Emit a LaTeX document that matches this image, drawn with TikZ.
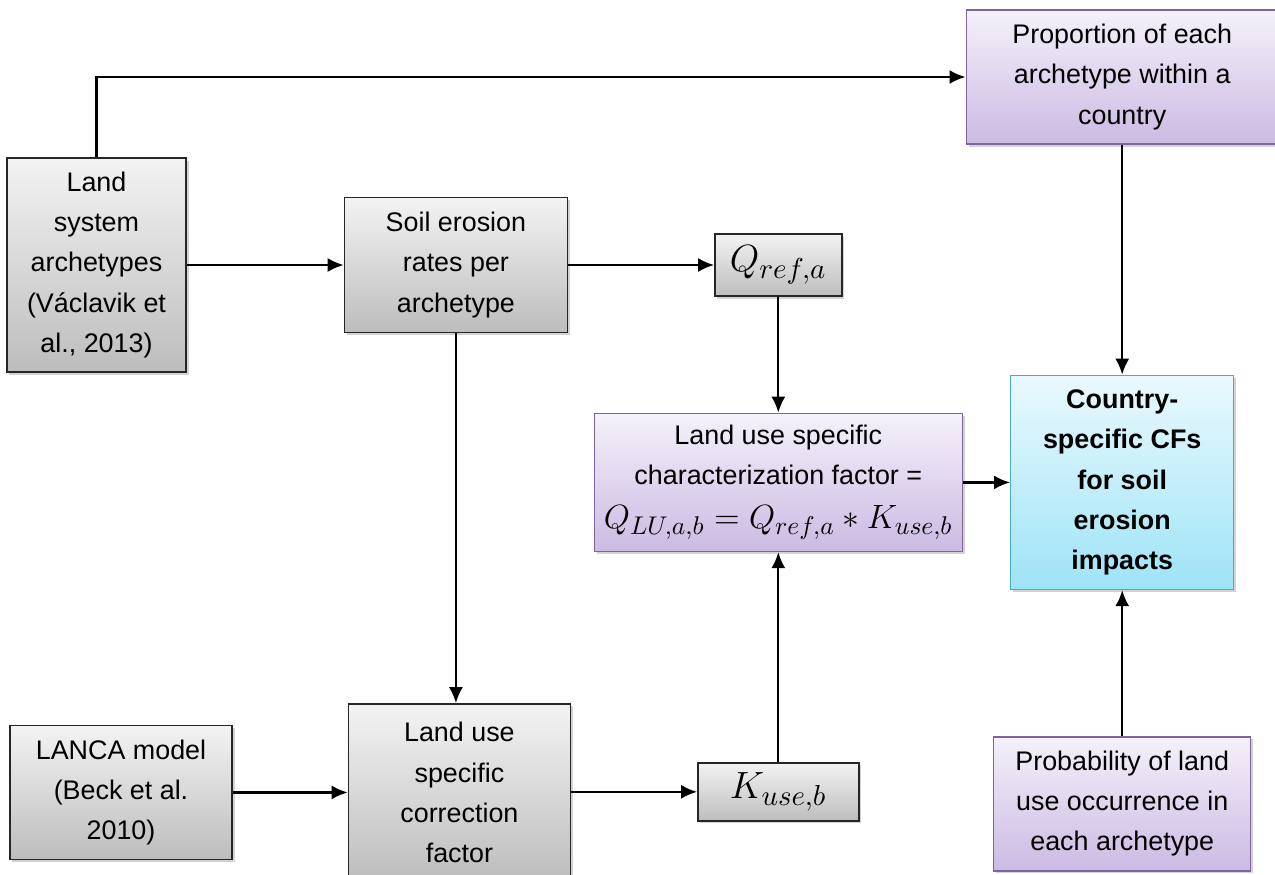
\documentclass[tikz,border=0pt]{standalone}
\usepackage{fontspec}
\setmainfont{Liberation Sans}
\usepackage{graphicx}
\usetikzlibrary{arrows.meta}
\usetikzlibrary{positioning}
\usetikzlibrary{shadows}
\usepackage{xcolor}
\definecolor{greytop}{HTML}{F3F3F3}
\definecolor{greybot}{HTML}{BDBDBD}
\definecolor{lilactop}{HTML}{F5F1FA}
\definecolor{lilacbot}{HTML}{CBBAE3}
\definecolor{lilacline}{HTML}{8064A2}
\definecolor{skytop}{HTML}{EAF9FD}
\definecolor{skybot}{HTML}{9EE3F6}
\definecolor{skyline}{HTML}{4BACC6}
\newcommand{\boxfont}{\fontsize{15.3}{22.8}\selectfont}
\newcommand{\eq}[2][1.33]{\scalebox{#1}{$#2$}}

\begin{document}
\begin{tikzpicture}[
  node distance=2cm and 3cm,
  input/.style={rectangle, draw=black!85, line width=0.8pt,
    top color=greytop, bottom color=greybot, align=center, font=\boxfont,
    drop shadow={shadow xshift=0.5mm, shadow yshift=-0.5mm, opacity=0.35}},
  factor/.style={rectangle, draw=lilacline, line width=0.8pt,
    top color=lilactop, bottom color=lilacbot, align=center, font=\boxfont,
    drop shadow={shadow xshift=0.5mm, shadow yshift=-0.5mm, opacity=0.35}},
  result/.style={rectangle, draw=skyline, line width=0.8pt,
    top color=skytop, bottom color=skybot, align=center, font=\boxfont\bfseries,
    drop shadow={shadow xshift=0.5mm, shadow yshift=-0.5mm, opacity=0.35}},
  arrow/.style={-{Latex[length=3.2mm, width=2.8mm]}, line width=1.3pt, draw=black},
]
\useasboundingbox (0,0) rectangle (25.5,-17.48);

% === Top row: archetypes and erosion rates ===
\node[input, minimum width=3.58cm, minimum height=4.28cm] (arch) at (1.93,-5.30)
  {Land\\system\\archetypes\\(Václavik et\\al., 2013)};
\node[input, minimum width=4.46cm, minimum height=2.70cm, right=3.14cm of arch] (soil)
  {Soil erosion\\rates per\\archetype};
\node[input, minimum width=2.54cm, minimum height=1.24cm, right=2.92cm of soil] (qref)
  {\eq[1.5]{Q_{ref,a}}};
\draw[arrow] (arch) -- (soil);
\draw[arrow] (soil) -- (qref);

% === Middle: characterization factor ===
\node[factor, minimum width=7.36cm, minimum height=2.76cm, below=2.32cm of qref] (cf)
  {Land use specific\\characterization factor =\\[2pt]\eq{Q_{LU,a,b} = Q_{ref,a} \ast K_{use,b}}};
\draw[arrow] (qref) -- (cf);

% === Bottom row: LANCA and correction factor ===
\node[input, minimum width=4.44cm, minimum height=3.54cm, below=7.4cm of soil, xshift=0.07cm] (corr)
  {Land use\\specific\\correction\\factor};
\node[input, minimum width=4.44cm, minimum height=2.68cm, left=2.3cm of corr] (lanca)
  {LANCA model\\(Beck et al.\\2010)};
\node[input, minimum width=3.22cm, minimum height=1.16cm, below=4.2cm of cf] (kuse)
  {\eq[1.5]{K_{use,b}}};
\draw[arrow] (soil) -- (soil |- corr.north);
\draw[arrow] (lanca.east) -- (lanca.east -| corr.west);
\draw[arrow] (kuse.west -| corr.east) -- (kuse.west);
\draw[arrow] (kuse) -- (cf);

% === Right column: country-specific CFs ===
\node[result, minimum width=4.46cm, minimum height=4.28cm, right=0.94cm of cf] (country)
  {Country-\\specific CFs\\for soil\\erosion\\impacts};
\node[factor, minimum width=6.24cm, minimum height=2.68cm, above=4.6cm of country] (prop)
  {Proportion of each\\archetype within a\\country};
\node[factor, minimum width=5.14cm, minimum height=2.68cm, below=2.92cm of country] (prob)
  {Probability of land\\use occurrence in\\each archetype};
\draw[arrow] (cf) -- (country);
\draw[arrow] (prop.south -| country.north) -- (country.north);
\draw[arrow] (prob) -- (country);
\draw[arrow] (arch.north) |- (prop.west);
\end{tikzpicture}
\end{document}
